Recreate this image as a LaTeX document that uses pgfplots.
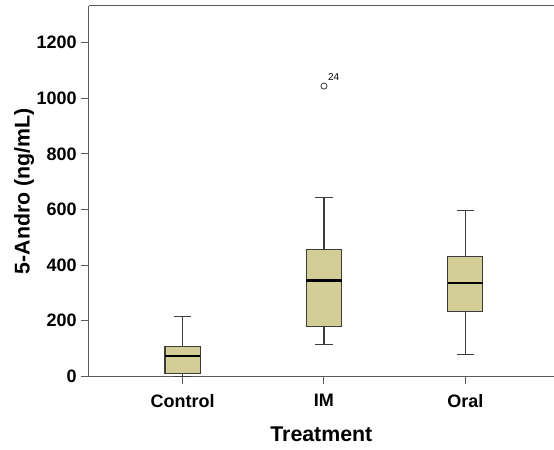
\documentclass[border=0pt]{standalone}
\usepackage{fontspec}
\setmainfont{Liberation Sans}
\usepackage{pgfplots}
\pgfplotsset{compat=1.18}
\definecolor{boxfill}{RGB}{211,206,151}
\definecolor{boxline}{RGB}{60,60,60}
\definecolor{axline}{RGB}{90,90,90}
\begin{document}
\begin{tikzpicture}
\begin{axis}[
  scale only axis,
  width=349pt, height=278pt,
  xmin=0.335, xmax=3.628,
  ymin=0, ymax=1333,
  axis lines*=left,
  axis line style={draw=axline, line width=0.9pt},
  xtick={1,2,3}, xticklabels={Control,IM,Oral},
  ytick={0,200,400,600,800,1000,1200},
  tick align=outside,
  major tick length=5.5pt,
  tick style={draw=axline, line width=0.8pt},
  /pgf/number format/assume math mode=true,
  /pgf/number format/1000 sep={},
  ticklabel style={font=\fontsize{13.5}{15}\selectfont\bfseries},
  xticklabel style={yshift=-4.5pt},
  xlabel={Treatment}, ylabel={5-Andro (ng/mL)},
  label style={font=\fontsize{16}{18}\selectfont\bfseries},
  xlabel style={yshift=-7.5pt},
  ylabel style={yshift=-5pt},
  clip=false,
]
% box: invisible base up to Q1, then Q3-Q1 on top
\addplot[ybar stacked, bar width=26.5pt, draw=none, fill=none]
  coordinates {(1,11) (2,179) (3,235)};
\addplot[ybar stacked, bar width=26.5pt, fill=boxfill, draw=boxline, line width=0.8pt]
  coordinates {(1,97) (2,279) (3,195)};
% upper whiskers: from Q3 up to upper whisker
\addplot[draw=none, mark=none,
  error bars/.cd, y dir=plus, y explicit,
  error bar style={draw=boxline, line width=0.9pt},
  error mark options={draw=boxline, line width=0.9pt, mark size=6.5pt, rotate=90}]
  coordinates {(1,108) +- (0,107) (2,458) +- (0,185) (3,430) +- (0,168)};
% lower whiskers: from Q1 down to lower whisker
\addplot[draw=none, mark=none,
  error bars/.cd, y dir=minus, y explicit,
  error bar style={draw=boxline, line width=0.9pt},
  error mark options={draw=boxline, line width=0.9pt, mark size=6.5pt, rotate=90}]
  coordinates {(1,11) +- (0,10) (2,179) +- (0,63) (3,235) +- (0,157)};
% medians
\addplot[only marks, mark=-, mark size=13.25pt, mark options={draw=black, line width=1.6pt}]
  coordinates {(1,73) (2,345) (3,337)};
% outlier
\addplot[only marks, mark=o, mark options={draw=boxline, line width=0.6pt}, mark size=2.3pt]
  coordinates {(2,1044)};
\node[anchor=south west, inner sep=0pt, font=\fontsize{7.5}{8}\selectfont] at (axis cs:2.027,1063) {24};
\draw[axline, line width=0.9pt] (rel axis cs:0,1) -- (rel axis cs:1,1);
\end{axis}
\pgfresetboundingbox
\path ([xshift=-66.5pt,yshift=-55pt]current axis.south west) rectangle ([yshift=4.3pt]current axis.north east);
\end{tikzpicture}
\end{document}
